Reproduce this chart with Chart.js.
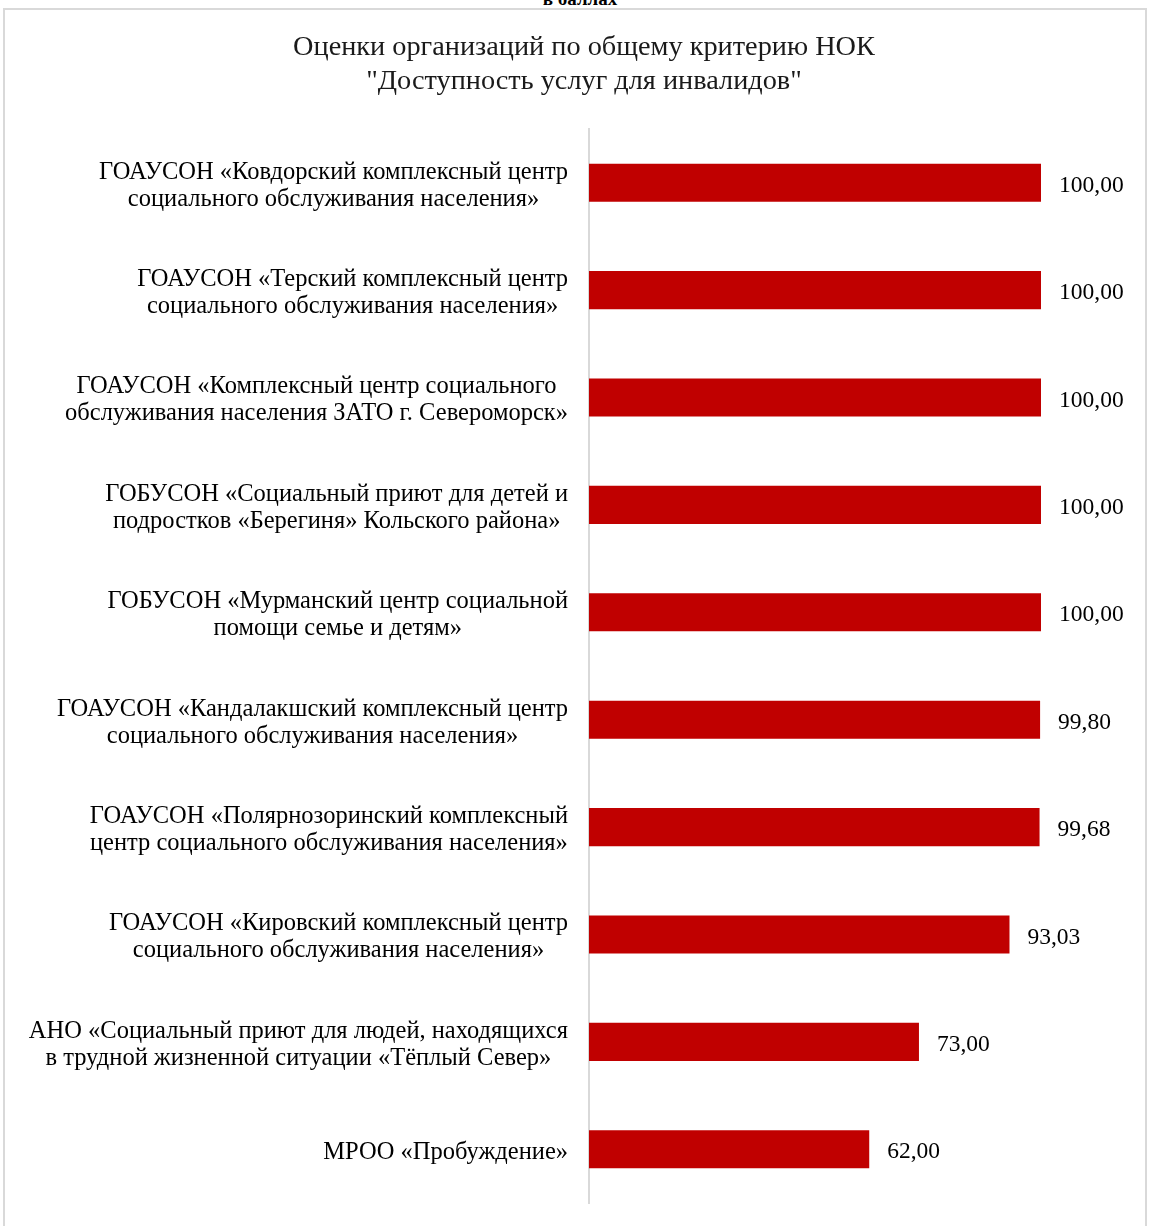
<!DOCTYPE html>
<html lang="ru">
<head>
<meta charset="utf-8">
<script src="https://cdn.jsdelivr.net/npm/chart.js@4"></script>
<style>
  html, body { margin: 0; padding: 0; background: #fff; overflow: hidden; }
  .unit {
    position: absolute; left: 0; top: -12px; width: 1160px; text-align: center;
    font: bold 19px "Liberation Serif", serif; color: #000;
  }
  .frame {
    position: absolute; left: 3px; top: 8px; width: 1140px; height: 1230px;
    border: 2px solid #d9d9d9; background: #fff;
  }
  canvas { display: block; }
</style>
</head>
<body>
<div class="unit">в баллах</div>
<div class="frame"><canvas id="chart" width="1140" height="1216"></canvas></div>
<script>
// organisations, top to bottom
const orgs = [
  ["ГОАУСОН «Ковдорский комплексный центр", "социального обслуживания населения»"],
  ["ГОАУСОН «Терский комплексный центр", "социального обслуживания населения»"],
  ["ГОАУСОН «Комплексный центр социального", "обслуживания населения ЗАТО г. Североморск»"],
  ["ГОБУСОН «Социальный приют для детей и", "подростков «Берегиня» Кольского района»"],
  ["ГОБУСОН «Мурманский центр социальной", "помощи семье и детям»"],
  ["ГОАУСОН «Кандалакшский комплексный центр", "социального обслуживания населения»"],
  ["ГОАУСОН «Полярнозоринский комплексный", "центр социального обслуживания населения»"],
  ["ГОАУСОН «Кировский комплексный центр", "социального обслуживания населения»"],
  ["АНО «Социальный приют для людей, находящихся", "в трудной жизненной ситуации «Тёплый Север»"],
  ["МРОО «Пробуждение»"]
];
const scores = [100, 100, 100, 100, 100, 99.80, 99.68, 93.03, 73.00, 62.00];
const titleLines = ["Оценки организаций по общему критерию НОК", "\"Доступность услуг для инвалидов\""];

const SERIF = '"Liberation Serif", "Times New Roman", serif';

// chart title, centred on the whole frame
const titlePlugin = {
  id: "frameTitle",
  afterDraw(chart) {
    const ctx = chart.ctx;
    ctx.save();
    ctx.font = "28.3px " + SERIF;
    ctx.fillStyle = "#1a1a1a";
    ctx.textAlign = "center";
    ctx.textBaseline = "middle";
    titleLines.forEach((t, k) => ctx.fillText(t, 579, 38 + k * 34));
    ctx.restore();
  }
};

// category labels: block right-aligned to axis, lines centred within block
const labelPlugin = {
  id: "orgLabels",
  afterDraw(chart) {
    const ctx = chart.ctx;
    const y = chart.scales.y;
    ctx.save();
    ctx.font = "24.5px " + SERIF;
    ctx.fillStyle = "#000";
    ctx.textBaseline = "middle";
    ctx.textAlign = "center";
    const right = chart.chartArea.left - 21;
    const lh = 27;
    orgs.forEach((lines, i) => {
      const w = Math.max(...lines.map(l => ctx.measureText(l).width));
      const cx = right - w / 2;
      const cy = y.getPixelForTick(i) + 3;
      lines.forEach((l, k) => {
        ctx.fillText(l, cx, cy + (k - (lines.length - 1) / 2) * lh);
      });
    });
    ctx.restore();
  }
};

// value labels after bar ends
const valuePlugin = {
  id: "values",
  afterDatasetsDraw(chart) {
    const ctx = chart.ctx;
    const meta = chart.getDatasetMeta(0);
    ctx.save();
    ctx.font = "23.5px " + SERIF;
    ctx.fillStyle = "#000";
    ctx.textBaseline = "middle";
    ctx.textAlign = "left";
    meta.data.forEach((bar, i) => {
      ctx.fillText(scores[i].toFixed(2).replace(".", ","), bar.x + 18, bar.y + 3);
    });
    ctx.restore();
  }
};

new Chart(document.getElementById("chart"), {
  type: "bar",
  data: {
    labels: orgs,
    datasets: [{
      data: scores,
      backgroundColor: "#c00000",
      barPercentage: 0.355,
      categoryPercentage: 1
    }]
  },
  options: {
    indexAxis: "y",
    responsive: false,
    animation: false,
    layout: { padding: { left: 0, right: 104, top: 119, bottom: 23 } },
    plugins: {
      legend: { display: false },
      tooltip: { enabled: false },
      title: { display: false }
    },
    scales: {
      x: { display: false, min: 0, max: 100 },
      y: {
        grid: { display: false },
        border: { display: true, color: "#d9d9d9", width: 2 },
        ticks: { display: false },
        afterFit(scale) { scale.width = 584; }
      }
    }
  },
  plugins: [titlePlugin, labelPlugin, valuePlugin]
});
</script>
</body>
</html>
